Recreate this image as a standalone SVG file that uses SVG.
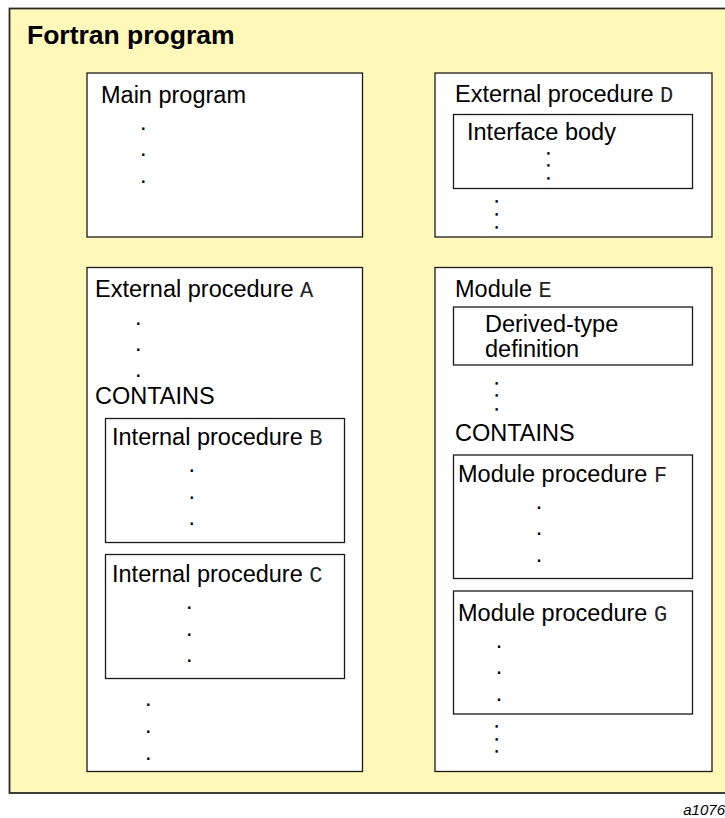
<svg xmlns="http://www.w3.org/2000/svg" width="725" height="818" viewBox="0 0 725 818">
<style>
.outer{fill:#FFF8B9;stroke:#2a2a2a;stroke-width:1.8}
.box{fill:#FFFFFF;stroke:#1a1a1a;stroke-width:1.3}
.t{font-family:"Liberation Sans",Arial,sans-serif;font-size:23.5px;fill:#000}
.m{font-family:"Liberation Mono","Courier New",monospace;font-size:22px;fill:#222}
.d{font-family:"Liberation Sans",Arial,sans-serif;font-size:23.5px;fill:#000;text-anchor:middle}
.s{font-family:"Liberation Sans",Arial,sans-serif;font-size:10px;fill:#000;stroke:#000;stroke-width:1.3;text-anchor:middle}
.title{font-family:"Liberation Sans",Arial,sans-serif;font-size:26.5px;font-weight:bold;fill:#000}
.tag{font-family:"Liberation Sans",Arial,sans-serif;font-size:15px;font-style:italic;fill:#000;text-anchor:end}
</style>
<rect width="725" height="818" fill="#FFFFFF"/>
<g id="fortran-program">
<rect class="outer" x="9.5" y="8.5" width="725" height="784.5"/>
<text class="title" x="27" y="44">Fortran program</text>
</g>
<g id="main-program">
<rect class="box" x="87" y="73" width="275.5" height="164"/>
<text class="t" x="101" y="102.5">Main program</text>
<text class="d" x="143.3" y="129.5">.</text>
<text class="d" x="143.3" y="156.2">.</text>
<text class="d" x="143.3" y="183">.</text>
</g>
<g id="external-procedure-d">
<rect class="box" x="435" y="73" width="277" height="164"/>
<text class="t" x="455" y="101.5">External procedure <tspan class="m">D</tspan></text>
<text class="s" x="496.7" y="202.2">.</text>
<text class="s" x="496.7" y="214.5">.</text>
<text class="s" x="496.7" y="227.5">.</text>
</g>
<g id="interface-body">
<rect class="box" x="453.5" y="114.5" width="239" height="74"/>
<text class="t" x="467" y="140">Interface body</text>
<text class="s" x="548.3" y="153.5">.</text>
<text class="s" x="548.3" y="166.3">.</text>
<text class="s" x="548.3" y="178.6">.</text>
</g>
<g id="external-procedure-a">
<rect class="box" x="87" y="267.5" width="275.5" height="504"/>
<text class="t" x="95" y="297">External procedure <tspan class="m">A</tspan></text>
<text class="d" x="138.3" y="325.3">.</text>
<text class="d" x="138.3" y="350.5">.</text>
<text class="d" x="138.3" y="377.3">.</text>
<text class="t" x="95" y="404">CONTAINS</text>
<text class="d" x="148.3" y="705.5">.</text>
<text class="d" x="148.3" y="733">.</text>
<text class="d" x="148.3" y="760.3">.</text>
</g>
<g id="internal-procedure-b">
<rect class="box" x="105.5" y="418.5" width="239" height="124"/>
<text class="t" x="112" y="445">Internal procedure <tspan class="m">B</tspan></text>
<text class="d" x="191.7" y="472.3">.</text>
<text class="d" x="191.7" y="498.5">.</text>
<text class="d" x="191.7" y="525.3">.</text>
</g>
<g id="internal-procedure-c">
<rect class="box" x="105.5" y="554.5" width="239" height="124"/>
<text class="t" x="112" y="581.5">Internal procedure <tspan class="m">C</tspan></text>
<text class="d" x="189.3" y="609">.</text>
<text class="d" x="189.3" y="635.5">.</text>
<text class="d" x="189.3" y="662">.</text>
</g>
<g id="module-e">
<rect class="box" x="435" y="267.5" width="277" height="504"/>
<text class="t" x="455" y="296.7">Module <tspan class="m">E</tspan></text>
<text class="s" x="496.7" y="383.8">.</text>
<text class="s" x="496.7" y="396.2">.</text>
<text class="s" x="496.7" y="409.5">.</text>
<text class="t" x="455" y="440.7">CONTAINS</text>
<text class="s" x="496.7" y="727.2">.</text>
<text class="s" x="496.7" y="739.8">.</text>
<text class="s" x="496.7" y="752.2">.</text>
</g>
<g id="derived-type-definition">
<rect class="box" x="453.5" y="307" width="239" height="58"/>
<text class="t" x="485" y="331.7">Derived-type</text>
<text class="t" x="485" y="357.3">definition</text>
</g>
<g id="module-procedure-f">
<rect class="box" x="453.5" y="455" width="239" height="123.5"/>
<text class="t" x="458" y="481.7">Module procedure <tspan class="m">F</tspan></text>
<text class="d" x="539" y="508.5">.</text>
<text class="d" x="539" y="535.3">.</text>
<text class="d" x="539" y="562">.</text>
</g>
<g id="module-procedure-g">
<rect class="box" x="453.5" y="591" width="239" height="123"/>
<text class="t" x="458" y="621">Module procedure <tspan class="m">G</tspan></text>
<text class="d" x="499" y="648">.</text>
<text class="d" x="499" y="674">.</text>
<text class="d" x="499" y="700.5">.</text>
</g>
<g id="connectors"/>
<text class="tag" x="725" y="815">a1076</text>
</svg>
